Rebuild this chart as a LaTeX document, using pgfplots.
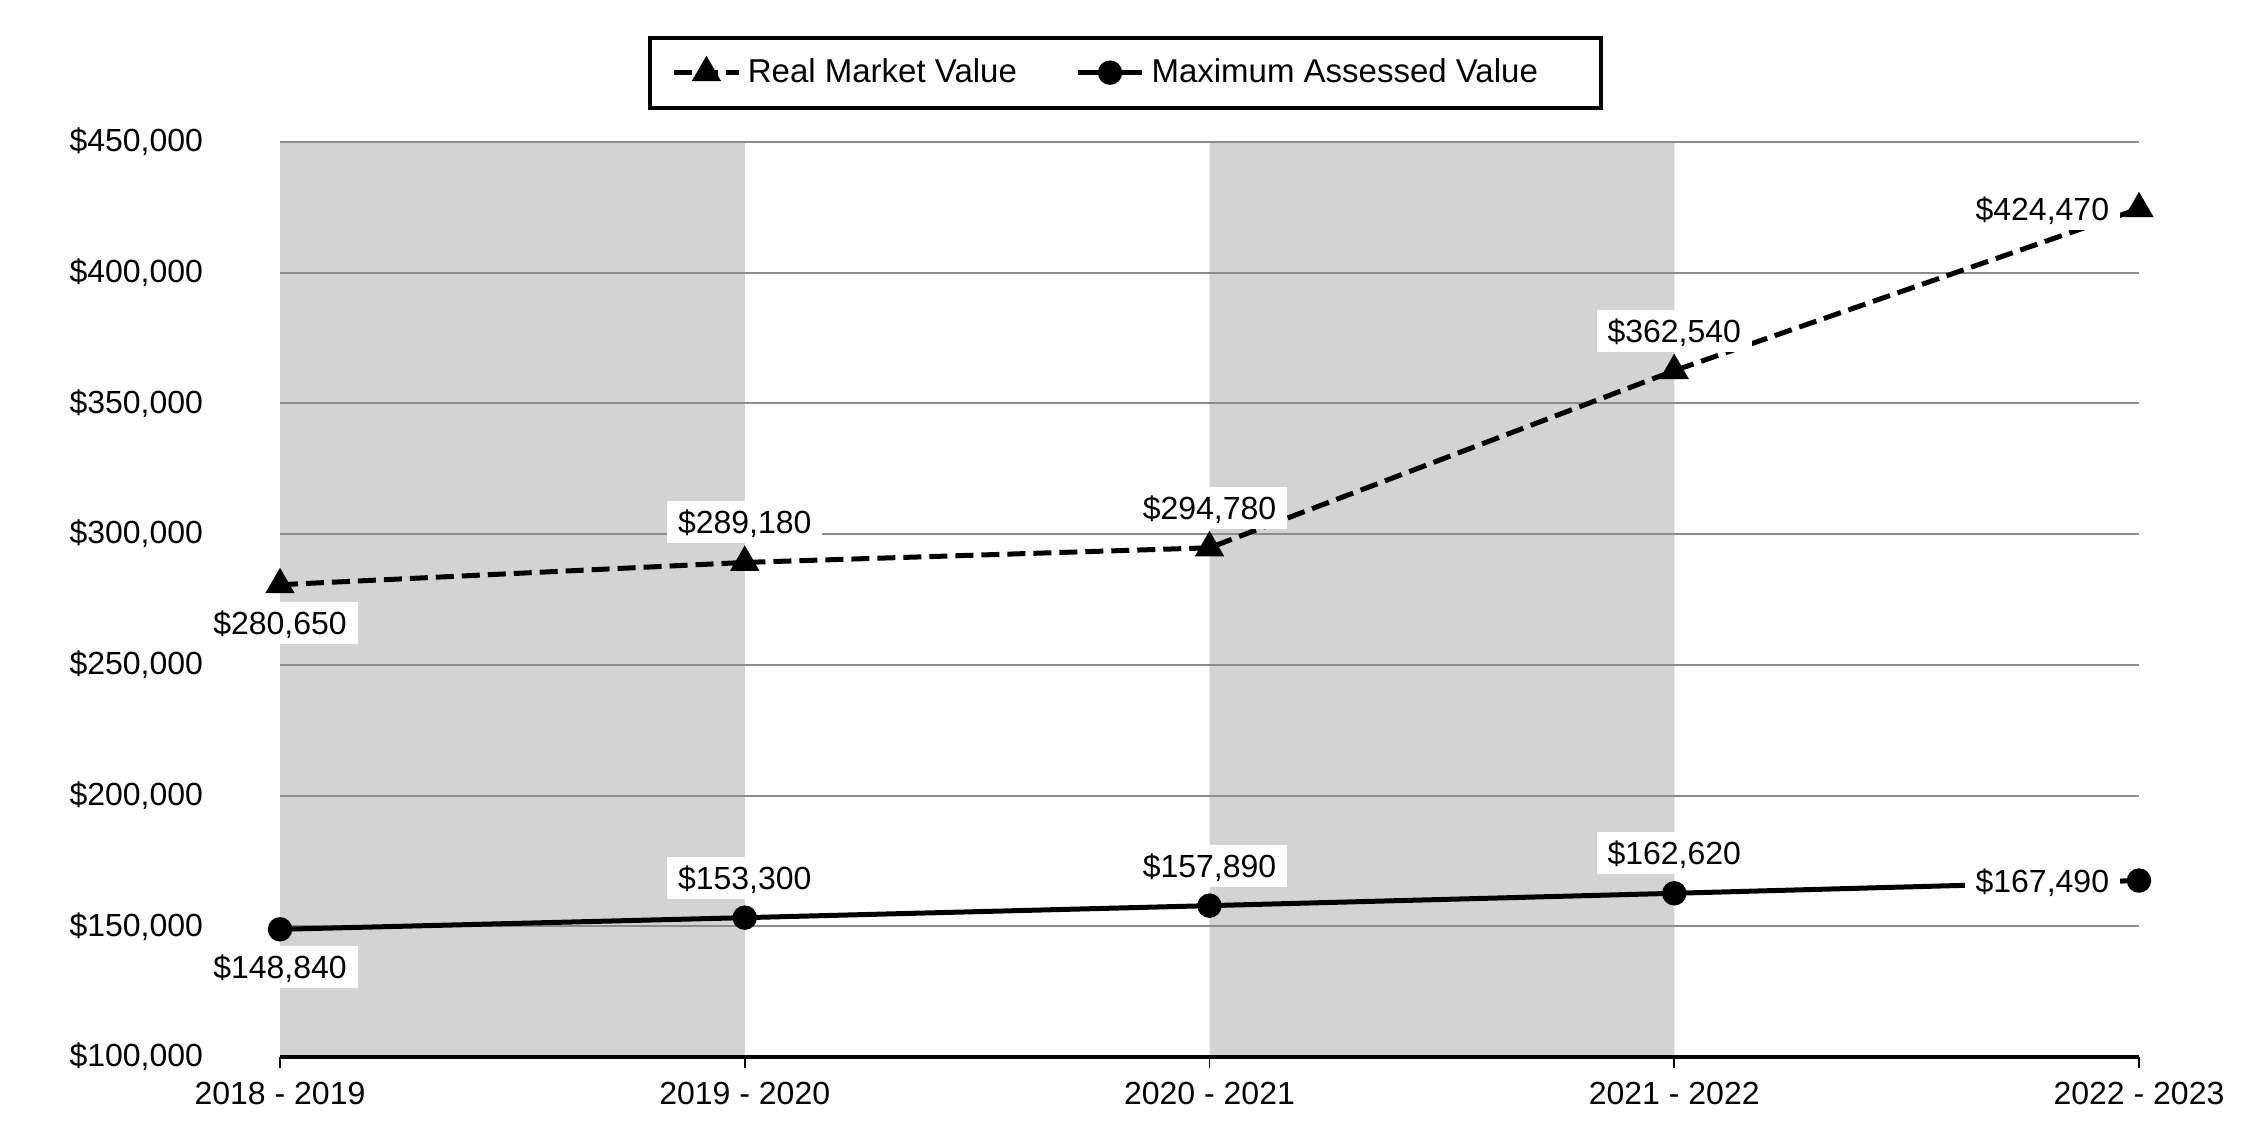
\documentclass[border=0pt]{standalone}
\usepackage{fontspec}
\setmainfont{Liberation Sans}
\usepackage{pgfplots}
\usepackage{pgfplotstable}
\pgfplotsset{compat=1.18}
\definecolor{bandgray}{HTML}{D3D3D3}
\definecolor{gridgray}{HTML}{8C8C8C}
\newcommand\myfont{\fontsize{9.6bp}{11.5bp}\selectfont}
\newcommand\legfont{\fontsize{9.9bp}{11.8bp}\selectfont}

\pgfplotstableread{
x y lab dx dy
0 280650 280,650 0 -11.5
1 289180 289,180 0 12
2 294780 294,780 0 12
3 362540 362,540 0 12
4 424470 424,470 -29 0
}\rmv
\pgfplotstableread{
x y lab dx dy
0 148840 148,840 0 -11.3
1 153300 153,300 0 12
2 157890 157,890 0 12
3 162620 162,620 0 12
4 167490 167,490 -29 0
}\mav

\pgfplotsset{
  vlabels/.style={
    nodes near coords={\$\pgfplotspointmeta},
    point meta=explicit symbolic,
    visualization depends on={\thisrow{dx} \as \dx},
    visualization depends on={\thisrow{dy} \as \dy},
    every node near coord/.append style={anchor=center, fill=white, inner xsep=3.3bp,
      inner ysep=2.85bp, text height=6.9bp, text depth=0bp, font=\myfont,
      xshift=\dx bp, yshift=\dy bp},
  }
}

\begin{document}
\myfont
\begin{tikzpicture}
\begin{axis}[
  at={(84bp,24.9bp)}, anchor=south west,
  scale only axis, width=557.7bp, height=274.5bp,
  set layers, clip=false,
  xmin=0, xmax=4, ymin=100000, ymax=450000,
  scaled y ticks=false,
  xtick={0,1,2,3,4},
  xticklabels={2018 - 2019,2019 - 2020,2020 - 2021,2021 - 2022,2022 - 2023},
  ytick={100000,150000,200000,250000,300000,350000,400000,450000},
  yticklabels={{\$100,000},{\$150,000},{\$200,000},{\$250,000},{\$300,000},{\$350,000},{\$400,000},{\$450,000}},
  axis lines*=left,
  y axis line style={draw=none},
  x axis line style={line width=1.2bp, black},
  ymajorgrids, grid style={gridgray, line width=0.6bp},
  tick align=outside, major tick length=3.3bp,
  xtick style={black, line width=0.5bp},
  ytick style={draw=none},
  tick label style={font=\myfont},
  yticklabel style={anchor=east, inner sep=0pt, xshift=-19.6bp},
  xticklabel style={anchor=north, inner sep=0pt, yshift=-4bp, text height=6.9bp},
  legend columns=2,
  legend style={at={(0.198,1.0355)}, anchor=south west, draw=black, line width=1.1bp,
    font=\legfont, inner xsep=6.5bp, inner ysep=4.2bp, cells={anchor=west},
    /tikz/every even column/.append style={column sep=15.5bp}},
  legend image code/.code={\draw[mark repeat=2,mark phase=2,#1] plot coordinates {(0bp,0bp) (9.7bp,0bp) (19.4bp,0bp)};},
]
\addplot[fill=bandgray, draw=none, on layer=axis background, forget plot]
  coordinates {(0,100000) (0,450000) (1,450000) (1,100000) (0,100000)};
\addplot[fill=bandgray, draw=none, on layer=axis background, forget plot]
  coordinates {(2,100000) (2,450000) (3,450000) (3,100000) (2,100000)};

\addplot[black, line width=1.5bp, dash pattern=on 5.4bp off 2.4bp,
  mark=triangle*, mark size=3.6bp, mark options={solid, fill=black}, vlabels]
  table[x=x, y=y, meta=lab] {\rmv};
\addlegendentry{Real Market Value}

\addplot[black, line width=1.5bp, solid,
  mark=*, mark size=2.9bp, mark options={solid, fill=black}, vlabels]
  table[x=x, y=y, meta=lab] {\mav};
\addlegendentry{Maximum Assessed Value\hspace*{10.5bp}\null}
\end{axis}
\pgfresetboundingbox
\useasboundingbox (0,0) rectangle (675bp,342bp);
\end{tikzpicture}
\end{document}
